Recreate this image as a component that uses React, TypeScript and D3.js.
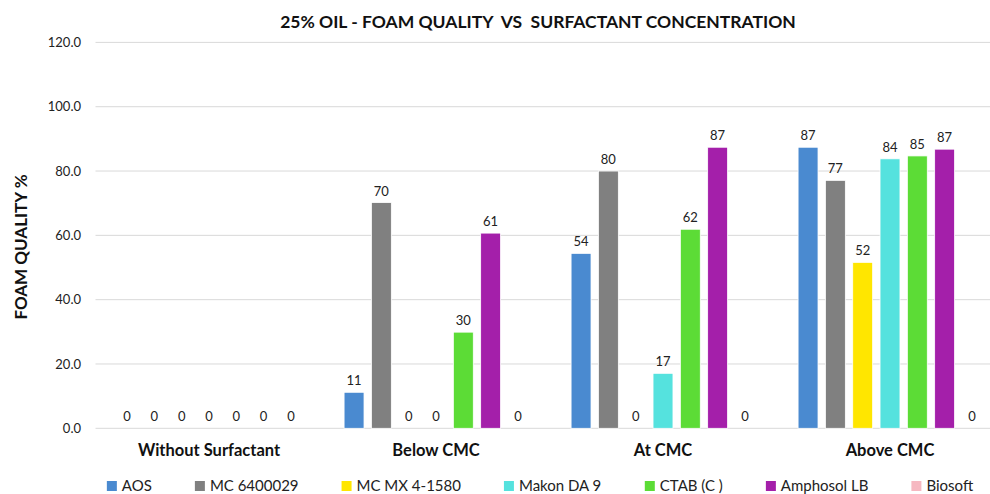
import React from "react";
import * as d3 from "d3";

const categories = ["Without Surfactant", "Below CMC", "At CMC", "Above CMC"];
const seriesNames = ["AOS", "MC 6400029", "MC MX 4-1580", "Makon DA 9", "CTAB (C )", "Amphosol LB", "Biosoft"];
const seriesColors = ["#4A8AD0", "#808080", "#FFE600", "#55E2DE", "#5CDC36", "#A41FAA", "#F6B8C1"];

const aos = [0, 11.2, 54.4, 87.4];
const mc6400029 = [0, 70.2, 80.0, 77.1];
const mcMx41580 = [0, 0, 0, 51.6];
const makonDA9 = [0, 0, 17.1, 83.8];
const ctab = [0, 29.9, 61.9, 84.7];
const amphosolLB = [0, 60.7, 87.4, 86.8];
const biosoft = [0, 0, 0, 0];

const seriesValues = [aos, mc6400029, mcMx41580, makonDA9, ctab, amphosolLB, biosoft];
const yTicks = [0, 20, 40, 60, 80, 100, 120];

const title = "25% OIL - FOAM QUALITY  VS  SURFACTANT CONCENTRATION";
const yTitle = "FOAM QUALITY %";

const W = 990;
const H = 494;
const FONT = "Lato, 'Open Sans', sans-serif";

function measure(text: string, font: string): number {
  if (typeof document === "undefined") return text.length * 8;
  const c = document.createElement("canvas");
  const ctx = c.getContext("2d");
  if (!ctx) return text.length * 8;
  ctx.font = font;
  return ctx.measureText(text).width;
}

export default function App() {
  const x0 = d3.scaleBand<string>().domain(categories).range([95.5, 1003.5]).padding(0);
  const x1 = d3
    .scaleBand<string>()
    .domain(seriesNames)
    .range([0, x0.bandwidth()])
    .paddingInner(0.27)
    .paddingOuter(0.79);
  const y = d3.scaleLinear().domain([0, 120]).range([428.3, 42.4]);
  const fmtTick = d3.format(".1f");
  const fmtLabel = d3.format(".0f");

  // legend flow layout
  const legendFont = `15px ${FONT}`;
  const sq = 10;
  const sqGap = 5;
  const itemGap = 43;
  const widths = seriesNames.map((n) => sq + sqGap + measure(n, legendFont));
  const total = d3.sum(widths) + itemGap * (seriesNames.length - 1);
  const legendCenter = 540;
  let cursor = legendCenter - total / 2;
  const legendX = widths.map((w) => {
    const p = cursor;
    cursor += w + itemGap;
    return p;
  });

  return (
    <svg
      width={W}
      height={H}
      style={{ position: "absolute", left: 0, top: 0, background: "#fff" }}
      fontFamily={FONT}
    >
      <rect x={0} y={0} width={W} height={H} fill="#fff" />
      <text
        x={538}
        y={28}
        textAnchor="middle"
        fontSize={17.5}
        fontWeight={700}
        fill="#111"
        style={{ whiteSpace: "pre" }}
      >
        {title}
      </text>
      {yTicks.map((t) => (
        <g key={t}>
          <line x1={95.5} x2={W} y1={y(t)} y2={y(t)} stroke="#d9d9d9" strokeWidth={1} />
          <text x={81} y={y(t)} dy="0.35em" textAnchor="end" fontSize={13} fill="#222">
            {fmtTick(t)}
          </text>
        </g>
      ))}
      <text
        transform={`translate(21,247) rotate(-90)`}
        textAnchor="middle"
        dy="0.35em"
        fontSize={17}
        fontWeight={700}
        fill="#111"
      >
        {yTitle}
      </text>
      {categories.map((c, ci) => (
        <g key={c} transform={`translate(${x0(c)},0)`}>
          {seriesNames.map((s, si) => {
            const v = seriesValues[si][ci];
            const bx = x1(s) as number;
            const bw = x1.bandwidth();
            return (
              <g key={s}>
                {v > 0 && (
                  <rect
                    x={bx}
                    y={y(v)}
                    width={bw}
                    height={y(0) - y(v)}
                    fill={seriesColors[si]}
                    stroke="#ffffff"
                    strokeWidth={0.8}
                  />
                )}
                <text
                  x={bx + bw / 2}
                  y={y(v) - 7}
                  textAnchor="middle"
                  fontSize={13}
                  fill="#222"
                >
                  {fmtLabel(v)}
                </text>
              </g>
            );
          })}
          <text
            x={x0.bandwidth() / 2}
            y={456}
            textAnchor="middle"
            fontSize={16.5}
            fontWeight={700}
            fill="#111"
          >
            {c}
          </text>
        </g>
      ))}
      {seriesNames.map((s, i) => (
        <g key={s} transform={`translate(${legendX[i]},0)`}>
          <rect x={0} y={481} width={sq} height={sq} fill={seriesColors[i]} />
          <text x={sq + sqGap} y={486} dy="0.35em" fontSize={15} fill="#222">
            {s}
          </text>
        </g>
      ))}
    </svg>
  );
}
